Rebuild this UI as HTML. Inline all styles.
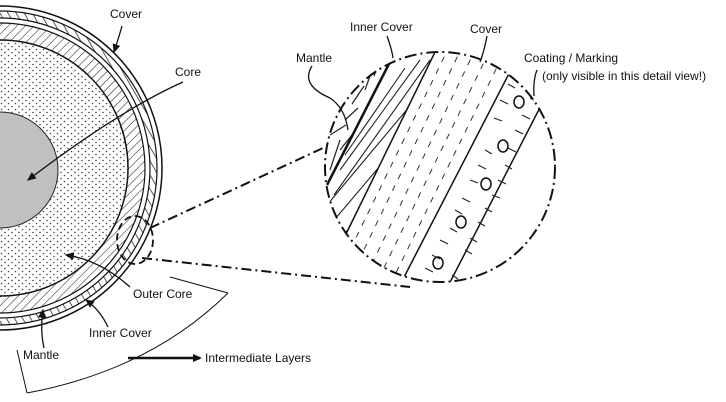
<!DOCTYPE html>
<html><head><style>
html,body{margin:0;padding:0;background:#fff;}
svg{display:block;}
text{font-family:"Liberation Sans",Arial,sans-serif;font-size:12px;fill:#111;}
</style></head><body>
<svg width="726" height="402" viewBox="0 0 726 402" xmlns="http://www.w3.org/2000/svg">
<defs>
<pattern id="dots" width="7" height="6" patternUnits="userSpaceOnUse">
<circle cx="1.5" cy="1.5" r="0.8" fill="#444"/><circle cx="5" cy="4.5" r="0.8" fill="#444"/>
</pattern>
<pattern id="hatch" width="6" height="6" patternUnits="userSpaceOnUse" patternTransform="rotate(45)">
<line x1="0" y1="0" x2="0" y2="6" stroke="#222" stroke-width="1.1"/>
</pattern>
<pattern id="ticks" width="7" height="7" patternUnits="userSpaceOnUse" patternTransform="rotate(-30)">
<line x1="0" y1="0" x2="0" y2="7" stroke="#222" stroke-width="1.5"/>
</pattern>
<clipPath id="big"><circle cx="440" cy="167" r="115"/></clipPath>
<marker id="ah" markerWidth="8" markerHeight="8" refX="6" refY="4" orient="auto"><path d="M0,1 L7,4 L0,7 Z" fill="#111"/></marker>
<marker id="ah2" markerWidth="6" markerHeight="6" refX="5" refY="3" orient="auto" markerUnits="userSpaceOnUse"><path d="M0,0 L6,3 L0,6 Z" fill="#111"/></marker>
</defs>

<!-- left ball -->
<circle cx="0" cy="168" r="162" fill="#fff" stroke="#111" stroke-width="1.5"/>
<circle cx="0" cy="168" r="157" fill="url(#ticks)" stroke="#111" stroke-width="1.2"/>
<circle cx="0" cy="168" r="150" fill="#fff" stroke="#111" stroke-width="1.2"/>
<circle cx="0" cy="168" r="145" fill="url(#hatch)" stroke="#111" stroke-width="1.2"/>
<circle cx="0" cy="168" r="128" fill="#fff" stroke="#111" stroke-width="1.5"/>
<circle cx="0" cy="168" r="128" fill="url(#dots)"/>
<circle cx="0" cy="170" r="58" fill="#c0c0c0" stroke="#222" stroke-width="1"/>
<ellipse cx="135" cy="240" rx="18" ry="24" fill="none" stroke="#111" stroke-width="1.8" stroke-dasharray="7,4"/>

<!-- connector lines -->
<line x1="150" y1="228" x2="336" y2="142" stroke="#111" stroke-width="2" stroke-dasharray="10,4,2,4"/>
<line x1="142" y1="258" x2="410" y2="287" stroke="#111" stroke-width="2" stroke-dasharray="10,4,2,4"/>

<!-- detail circle -->
<g clip-path="url(#big)">
<rect x="320" y="40" width="250" height="260" fill="#fff"/>
<!-- mantle hatch -->
<g stroke="#222" stroke-width="1.2">
<line x1="330" y1="170" x2="340" y2="140"/><line x1="340" y1="150" x2="352" y2="135"/>
<line x1="330" y1="135" x2="346" y2="125"/><line x1="345" y1="120" x2="358" y2="108"/>
<line x1="352" y1="104" x2="364" y2="86"/><line x1="365" y1="90" x2="370" y2="76"/>
<line x1="374" y1="76" x2="380" y2="60"/><line x1="383" y1="62" x2="388" y2="56"/>
</g>
<line x1="327" y1="185" x2="392" y2="58" stroke="#111" stroke-width="2.5"/>
<!-- inner cover lines -->
<g stroke="#222" stroke-width="1.1">
<line x1="327" y1="205" x2="440" y2="70"/><line x1="330" y1="225" x2="440" y2="95"/>
<line x1="335" y1="245" x2="440" y2="120"/><line x1="340" y1="170" x2="420" y2="60"/>
<line x1="345" y1="155" x2="405" y2="68"/><line x1="334" y1="195" x2="430" y2="60"/>
</g>
<polygon points="438,46 560,30 560,330 300,330 346,234" fill="#fff"/>
<line x1="438" y1="46" x2="346" y2="234" stroke="#111" stroke-width="1.5"/>
<!-- cover dashed lines -->
<g stroke="#333" stroke-width="1" stroke-dasharray="6,7">
<line x1="450" y1="45" x2="350" y2="250"/><line x1="463" y1="45" x2="358" y2="262"/>
<line x1="476" y1="48" x2="368" y2="272"/><line x1="489" y1="52" x2="378" y2="280"/>
<line x1="502" y1="57" x2="390" y2="285"/>
</g>
<line x1="515" y1="62" x2="400" y2="285" stroke="#111" stroke-width="1.5"/>
<line x1="548" y1="92" x2="445" y2="292" stroke="#111" stroke-width="1.5"/>
<!-- coating ticks -->
<g stroke="#222" stroke-width="1.1">
<line x1="508" y1="84" x2="515" y2="88"/><line x1="522" y1="72" x2="528" y2="76"/><line x1="530" y1="98" x2="538" y2="102"/>
<line x1="500" y1="100" x2="508" y2="104"/><line x1="522" y1="115" x2="530" y2="119"/><line x1="494" y1="118" x2="502" y2="121"/>
<line x1="515" y1="130" x2="523" y2="134"/><line x1="485" y1="150" x2="492" y2="154"/><line x1="508" y1="148" x2="516" y2="152"/>
<line x1="505" y1="165" x2="512" y2="169"/><line x1="470" y1="180" x2="478" y2="183"/><line x1="492" y1="195" x2="500" y2="198"/>
<line x1="478" y1="165" x2="486" y2="169"/><line x1="498" y1="180" x2="506" y2="184"/>
<line x1="455" y1="210" x2="462" y2="214"/><line x1="478" y1="222" x2="485" y2="226"/><line x1="440" y1="240" x2="448" y2="244"/>
<line x1="462" y1="198" x2="470" y2="202"/><line x1="485" y1="208" x2="492" y2="212"/><line x1="450" y1="228" x2="457" y2="232"/>
<line x1="470" y1="238" x2="477" y2="242"/>
<line x1="465" y1="250" x2="472" y2="254"/><line x1="425" y1="268" x2="433" y2="272"/><line x1="452" y1="275" x2="458" y2="279"/>
<line x1="432" y1="255" x2="440" y2="259"/><line x1="418" y1="282" x2="425" y2="286"/>
</g>
<g fill="none" stroke="#111" stroke-width="1.5">
<ellipse cx="519" cy="102" rx="5" ry="6"/><ellipse cx="503" cy="146" rx="5" ry="6"/>
<ellipse cx="486" cy="184" rx="5" ry="6"/><ellipse cx="461" cy="222" rx="5" ry="6"/>
<ellipse cx="438" cy="263" rx="5" ry="6"/>
</g>
</g>
<circle cx="440" cy="167" r="115" fill="none" stroke="#111" stroke-width="2" stroke-dasharray="12,4,2,4"/>

<!-- bracket -->
<g fill="none" stroke="#111" stroke-width="1">
<polyline points="170,277 228,293"/>
<path d="M228,293 Q150,370 27,393"/>
<polyline points="27,393 17,350"/>
</g>
<line x1="128" y1="358" x2="200" y2="358" stroke="#111" stroke-width="2.5"/>
<path d="M193,354 L202,358 L193,362 Z" fill="#111"/>

<!-- leader lines left -->
<g fill="none" stroke="#111" stroke-width="1.3">
<path d="M122,26 Q118,40 114,52" marker-end="url(#ah)"/>
<path d="M183,82 Q120,110 28,180" marker-end="url(#ah)"/>
<path d="M130,287 Q100,260 66,255" marker-end="url(#ah)"/>
<path d="M108,327 Q100,310 86,300" marker-end="url(#ah)"/>
<path d="M44,348 Q40,330 43,310" marker-end="url(#ah)"/>
<path d="M312,66 Q300,85 330,98 Q345,108 348,130"/>
<path d="M387,36 Q392,50 393,58"/>
<path d="M487,36 Q484,52 480,62"/>
<path d="M537,70 Q533,80 534,96"/>
</g>

<!-- labels -->
<text x="110" y="18">Cover</text>
<text x="175" y="76">Core</text>
<text x="133" y="298">Outer Core</text>
<text x="89" y="337">Inner Cover</text>
<text x="23" y="359">Mantle</text>
<text x="205" y="362">Intermediate Layers</text>
<text x="296" y="62">Mantle</text>
<text x="350" y="31">Inner Cover</text>
<text x="470" y="33">Cover</text>
<text x="524" y="62">Coating / Marking</text>
<text x="542" y="80">(only visible in this detail view!)</text>
</svg>
</body></html>
